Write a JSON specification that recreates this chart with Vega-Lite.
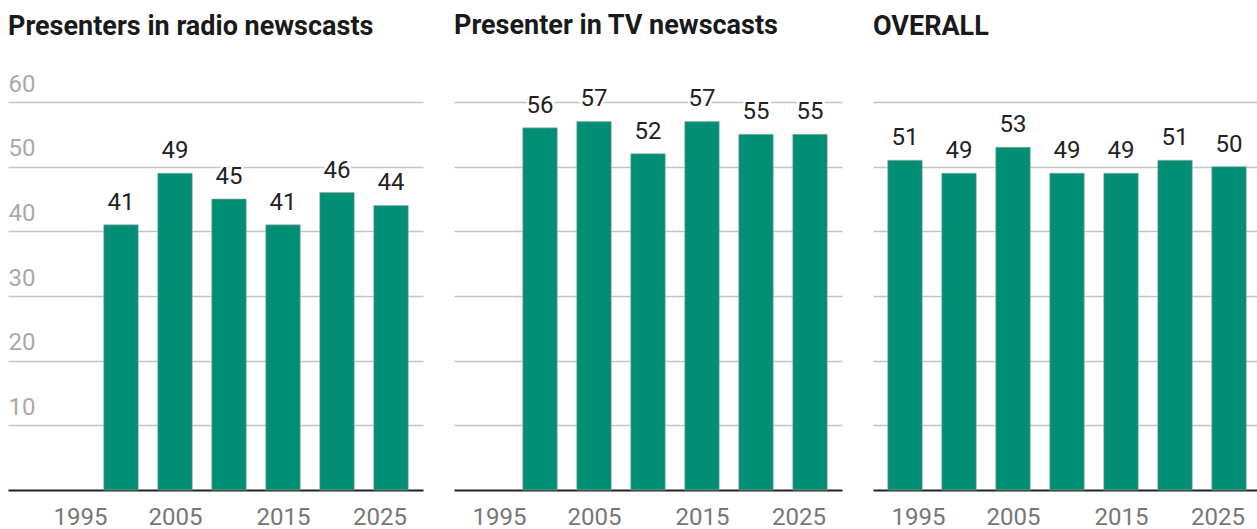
{
  "$schema": "https://vega.github.io/schema/vega-lite/v6.json",
  "background": "white",
  "padding": {"left": 8, "top": 11, "right": 0, "bottom": 0},
  "bounds": "flush",
  "spacing": 31,
  "config": {
    "view": {"stroke": null},
    "font": "Roboto"
  },
  "datasets": {
    "radio": [
      {"year": 2000, "value": 41}, {"year": 2005, "value": 49}, {"year": 2010, "value": 45},
      {"year": 2015, "value": 41}, {"year": 2020, "value": 46}, {"year": 2025, "value": 44}
    ],
    "tv": [
      {"year": 2000, "value": 56}, {"year": 2005, "value": 57}, {"year": 2010, "value": 52},
      {"year": 2015, "value": 57}, {"year": 2020, "value": 55}, {"year": 2025, "value": 55}
    ],
    "overall": [
      {"year": 1995, "value": 51}, {"year": 2000, "value": 49}, {"year": 2005, "value": 53},
      {"year": 2010, "value": 49}, {"year": 2015, "value": 49}, {"year": 2020, "value": 51}, {"year": 2025, "value": 50}
    ]
  },
  "hconcat": [
    {
      "title": {"text": "Presenters in radio newscasts", "offset": 10.5, "anchor": "start", "frame": "group", "fontSize": 27, "fontWeight": "bold", "color": "#1a1a1a", "font": "Roboto", "baseline": "alphabetic"},
      "width": 415, "height": 388,
      "data": {"name": "radio"},
      "encoding": {
        "x": {"field": "year", "type": "quantitative", "scale": {"domain": [1990, 2027.5], "nice": false, "zero": false},
              "axis": {"values": [1995, 2005, 2015, 2025], "format": "d", "grid": false, "ticks": false, "domainColor": "#222222", "domainWidth": 2, "labelFontSize": 24, "labelColor": "#777777", "labelFont": "Roboto", "labelPadding": 15, "labelBaseline": "top", "title": null, "labelFlush": false, "labelOffset": {"expr": "datum.value == 1995 ? 13 : datum.value == 2025 ? -11.5 : 0"}}},
        "y": {"field": "value", "type": "quantitative", "scale": {"domain": [0, 60], "nice": false},
              "axis": {"values": [10, 20, 30, 40, 50, 60], "grid": true, "gridColor": "#c4c4c4", "gridWidth": 1.5, "ticks": false, "domain": false, "title": null, "labelAlign": "left", "labelPadding": 0, "labelBaseline": "alphabetic", "labelOffset": -11, "labelFontSize": 24, "labelColor": "#aaaaaa", "labelFont": "Roboto"}}
      },
      "layer": [
        {"mark": {"type": "bar", "size": 34.5, "color": "#008f74", "stroke": "#aaaaaa", "strokeWidth": 0.6}},
        {"mark": {"type": "text", "baseline": "alphabetic", "dy": -15, "fontSize": 24, "font": "Roboto", "stroke": "white", "strokeWidth": 5, "strokeJoin": "round", "fill": "white"}, "encoding": {"text": {"field": "value"}}},
        {"mark": {"type": "text", "baseline": "alphabetic", "dy": -15, "fontSize": 24, "font": "Roboto", "color": "#222222"}, "encoding": {"text": {"field": "value"}}}
      ]
    },
    {
      "title": {"text": "Presenter in TV newscasts", "offset": 26.5, "anchor": "start", "frame": "group", "fontSize": 27, "fontWeight": "bold", "color": "#1a1a1a", "font": "Roboto", "baseline": "alphabetic"},
      "width": 388, "height": 388,
      "data": {"name": "tv"},
      "encoding": {
        "x": {"field": "year", "type": "quantitative", "scale": {"domain": [1992.5, 2027.5], "nice": false, "zero": false},
              "axis": {"values": [1995, 2005, 2015, 2025], "format": "d", "grid": false, "ticks": false, "domainColor": "#222222", "domainWidth": 2, "labelFontSize": 24, "labelColor": "#777777", "labelFont": "Roboto", "labelPadding": 15, "labelBaseline": "top", "title": null, "labelFlush": false, "labelOffset": {"expr": "datum.value == 1995 ? 13 : datum.value == 2025 ? -11.5 : 0"}}},
        "y": {"field": "value", "type": "quantitative", "scale": {"domain": [0, 60], "nice": false},
              "axis": {"values": [10, 20, 30, 40, 50, 60], "grid": true, "gridColor": "#c4c4c4", "gridWidth": 1.5, "ticks": false, "domain": false, "title": null, "labels": false}}
      },
      "layer": [
        {"mark": {"type": "bar", "size": 34.5, "color": "#008f74", "stroke": "#aaaaaa", "strokeWidth": 0.6}},
        {"mark": {"type": "text", "baseline": "alphabetic", "dy": -15, "fontSize": 24, "font": "Roboto", "stroke": "white", "strokeWidth": 5, "strokeJoin": "round", "fill": "white"}, "encoding": {"text": {"field": "value"}}},
        {"mark": {"type": "text", "baseline": "alphabetic", "dy": -15, "fontSize": 24, "font": "Roboto", "color": "#222222"}, "encoding": {"text": {"field": "value"}}}
      ]
    },
    {
      "title": {"text": "OVERALL", "offset": 40.5, "anchor": "start", "frame": "group", "fontSize": 27, "fontWeight": "bold", "color": "#1a1a1a", "font": "Roboto", "baseline": "alphabetic"},
      "width": 388, "height": 388,
      "data": {"name": "overall"},
      "encoding": {
        "x": {"field": "year", "type": "quantitative", "scale": {"domain": [1992.5, 2027.5], "nice": false, "zero": false},
              "axis": {"values": [1995, 2005, 2015, 2025], "format": "d", "grid": false, "ticks": false, "domainColor": "#222222", "domainWidth": 2, "labelFontSize": 24, "labelColor": "#777777", "labelFont": "Roboto", "labelPadding": 15, "labelBaseline": "top", "title": null, "labelFlush": false, "labelOffset": {"expr": "datum.value == 1995 ? 13 : datum.value == 2025 ? -11.5 : 0"}}},
        "y": {"field": "value", "type": "quantitative", "scale": {"domain": [0, 60], "nice": false},
              "axis": {"values": [10, 20, 30, 40, 50, 60], "grid": true, "gridColor": "#c4c4c4", "gridWidth": 1.5, "ticks": false, "domain": false, "title": null, "labels": false}}
      },
      "layer": [
        {"mark": {"type": "bar", "size": 34.5, "color": "#008f74", "stroke": "#aaaaaa", "strokeWidth": 0.6}},
        {"mark": {"type": "text", "baseline": "alphabetic", "dy": -15, "fontSize": 24, "font": "Roboto", "stroke": "white", "strokeWidth": 5, "strokeJoin": "round", "fill": "white"}, "encoding": {"text": {"field": "value"}}},
        {"mark": {"type": "text", "baseline": "alphabetic", "dy": -15, "fontSize": 24, "font": "Roboto", "color": "#222222"}, "encoding": {"text": {"field": "value"}}}
      ]
    }
  ]
}
